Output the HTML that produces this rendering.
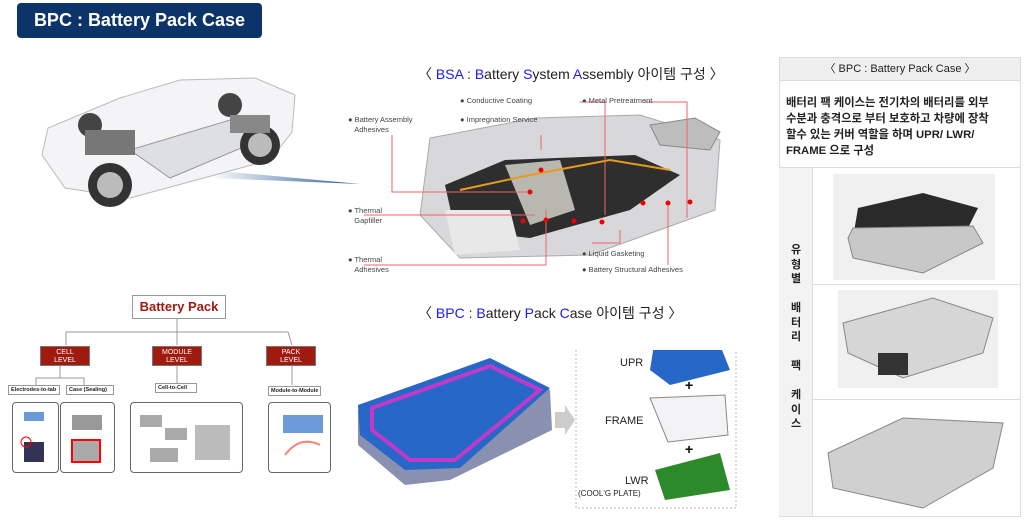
<!DOCTYPE html>
<html><head><meta charset="utf-8">
<style>
*{margin:0;padding:0;box-sizing:border-box}
body{width:1024px;height:520px;background:#fff;position:relative;overflow:hidden;font-family:"Liberation Sans","Noto Sans CJK KR",sans-serif}
.a{position:absolute;white-space:nowrap}
.lbl{font-size:7.5px;color:#444;line-height:10px}
.b{color:#1a1aff}
.lv{position:absolute;background:#a01a10;color:#fff;font-size:7px;text-align:center;line-height:8px;padding-top:2px;border:1px solid #777}
.sl{position:absolute;border:1px solid #999;font-size:5.5px;font-weight:bold;padding:1px 2px;background:#fff;color:#222;white-space:nowrap;overflow:hidden}
.ib{position:absolute;border:1px solid #666;border-radius:4px;background:#fff}
</style></head><body>

<div class="a" style="left:17px;top:3px;width:245px;height:35px;background:#0d3468;border-radius:4px;color:#fff;font-weight:bold;font-size:18px;line-height:35px;text-align:center">BPC : Battery Pack Case</div>

<!-- car -->
<svg class="a" style="left:30px;top:60px" width="350" height="150">
<defs><linearGradient id="g1" x1="0" x2="1"><stop offset="0" stop-color="#fff"/><stop offset="1" stop-color="#2a5a9a"/></linearGradient></defs>
<polygon points="180,110 330,124 180,118" fill="url(#g1)"/>
<path d="M12,95 L18,68 L90,38 L150,20 L225,18 L265,35 L262,72 L240,100 L100,138 L35,128 Z" fill="#f4f4f6" stroke="#bbb"/>
<polygon points="100,90 200,60 235,78 140,118" fill="#dcdfe3" stroke="#999"/>
<circle cx="80" cy="125" r="22" fill="#333"/><circle cx="80" cy="125" r="13" fill="#bbb"/>
<circle cx="230" cy="85" r="20" fill="#333"/><circle cx="230" cy="85" r="12" fill="#bbb"/>
<circle cx="200" cy="45" r="12" fill="#444"/>
<circle cx="60" cy="65" r="12" fill="#444"/>
<rect x="55" y="70" width="50" height="25" fill="#777"/>
<rect x="200" y="55" width="40" height="18" fill="#888"/>
</svg>

<div class="a" style="left:418px;top:64px;font-size:14px;color:#222">〈 <span class="b">BSA</span> : <span class="b">B</span>attery <span class="b">S</span>ystem <span class="b">A</span>ssembly 아이템 구성 〉</div>

<!-- BSA pack -->
<svg class="a" style="left:410px;top:90px" width="320" height="180">
<polygon points="10,125 20,48 125,28 230,25 310,50 305,120 180,165 50,168" fill="#d8d8da" stroke="#aaa"/>
<polygon points="35,95 95,70 225,65 270,85 220,120 120,148 45,140" fill="#2e2e2e"/>
<polygon points="95,75 150,70 165,120 120,135" fill="#b8b8b0"/>
<polygon points="35,120 100,120 110,160 45,165" fill="#e8e8e8"/>
<polygon points="240,35 285,28 310,42 300,60 250,55" fill="#bdbdbd" stroke="#888"/>
<path d="M50,100 L120,85 L200,70 L260,80" stroke="#e89a20" fill="none" stroke-width="2"/>
</svg>
<svg class="a" style="left:330px;top:90px" width="420" height="190" fill="none" stroke="#e66" stroke-width="1">
<path d="M62,45 V102 H200"/><path d="M34,125 H205"/><path d="M34,175 H216 V120"/>
<path d="M314,12 H357 V128"/><path d="M250,12 H275 V125"/><path d="M211,60 V45"/>
<path d="M262,153 H290 V140"/><path d="M338,175 V115"/>
<g fill="#e00" stroke="none"><circle cx="200" cy="102" r="2.5"/><circle cx="244" cy="131" r="2.5"/><circle cx="216" cy="130" r="2.5"/><circle cx="272" cy="132" r="2.5"/><circle cx="211" cy="80" r="2.5"/><circle cx="313" cy="113" r="2.5"/><circle cx="338" cy="113" r="2.5"/><circle cx="360" cy="112" r="2.5"/><circle cx="193" cy="131" r="2.5"/></g>
</svg>
<div class="a lbl" style="left:348px;top:115px">● Battery Assembly<br>&nbsp;&nbsp;&nbsp;Adhesives</div>
<div class="a lbl" style="left:348px;top:206px">● Thermal<br>&nbsp;&nbsp;&nbsp;Gapfiller</div>
<div class="a lbl" style="left:348px;top:255px">● Thermal<br>&nbsp;&nbsp;&nbsp;Adhesives</div>
<div class="a lbl" style="left:460px;top:96px">● Conductive Coating</div>
<div class="a lbl" style="left:460px;top:115px">● Impregnation Service</div>
<div class="a lbl" style="left:582px;top:96px">● Metal Pretreatment</div>
<div class="a lbl" style="left:582px;top:249px">● Liquid Gasketing</div>
<div class="a lbl" style="left:582px;top:265px">● Battery Structural Adhesives</div>

<!-- tree -->
<svg class="a" style="left:0;top:290px" width="340" height="120" fill="none" stroke="#999">
<path d="M177,28 V42 M66,55 V42 H288 L292,55 M177,42 V55 M60,75 V88 M36,95 V88 H84 V95 M177,75 V95 M292,75 V95"/>
</svg>
<div class="a" style="left:132px;top:295px;width:94px;height:24px;border:1px solid #999;color:#a01a10;font-weight:bold;font-size:13px;text-align:center;line-height:22px">Battery Pack</div>
<div class="lv" style="left:40px;top:346px;width:50px;height:20px">CELL<br>LEVEL</div>
<div class="lv" style="left:152px;top:346px;width:50px;height:20px">MODULE<br>LEVEL</div>
<div class="lv" style="left:266px;top:346px;width:50px;height:20px">PACK<br>LEVEL</div>
<div class="sl" style="left:8px;top:385px;width:52px">Electrodes-to-tab</div>
<div class="sl" style="left:66px;top:385px;width:48px">Case (Sealing)</div>
<div class="sl" style="left:155px;top:383px;width:42px">Cell-to-Cell</div>
<div class="sl" style="left:268px;top:386px;width:53px">Module-to-Module</div>
<div class="ib" style="left:12px;top:402px;width:47px;height:71px"></div>
<div class="ib" style="left:60px;top:402px;width:55px;height:71px"></div>
<div class="ib" style="left:130px;top:402px;width:113px;height:71px"></div>
<div class="ib" style="left:268px;top:402px;width:63px;height:71px"></div>
<svg class="a" style="left:0;top:400px" width="340" height="80">
<rect x="24" y="12" width="20" height="9" fill="#6a9ad8"/><rect x="24" y="42" width="20" height="20" fill="#335"/><circle cx="26" cy="42" r="5" fill="none" stroke="red"/>
<rect x="72" y="15" width="30" height="15" fill="#999"/><rect x="72" y="40" width="28" height="22" fill="#aaa" stroke="red" stroke-width="2"/>
<rect x="140" y="15" width="22" height="12" fill="#aaa"/><rect x="165" y="28" width="22" height="12" fill="#aaa"/><rect x="150" y="48" width="28" height="14" fill="#aaa"/><rect x="195" y="25" width="35" height="35" fill="#bbb"/>
<rect x="283" y="15" width="40" height="18" fill="#6a9ad8"/><path d="M285,55 q15,-20 35,-10" stroke="#e87" fill="none" stroke-width="2"/>
</svg>

<div class="a" style="left:418px;top:303px;font-size:14px;color:#222">〈 <span class="b">BPC</span> : <span class="b">B</span>attery <span class="b">P</span>ack <span class="b">C</span>ase 아이템 구성 〉</div>
<svg class="a" style="left:350px;top:350px" width="390" height="165">
<polygon points="8,60 140,12 200,40 202,80 100,130 55,135 8,95" fill="#8a90b0"/>
<polygon points="8,55 140,8 200,38 110,118 55,120 10,85" fill="#2767c8"/>
<polygon points="22,58 140,16 190,40 105,110 60,110 22,80" fill="none" stroke="#c03ac8" stroke-width="4"/>
<polygon points="205,62 215,62 215,55 225,70 215,85 215,78 205,78" fill="#ccc"/>
<rect x="226" y="-22" width="160" height="180" fill="none" stroke="#bbb" stroke-dasharray="2,2"/>
<polygon points="305,-12 370,-5 380,20 320,35 300,20" fill="#2767c8"/>
<polygon points="300,48 375,45 378,85 318,92" fill="#f3f3f5" stroke="#888"/>
<polygon points="305,120 370,103 380,140 315,150" fill="#2d8a2a"/>
<text x="335" y="40" font-size="14" font-family="Liberation Sans" font-weight="bold">+</text>
<text x="335" y="104" font-size="14" font-family="Liberation Sans" font-weight="bold">+</text>
</svg>
<div class="a" style="left:620px;top:357px;font-size:11px;color:#222">UPR</div>
<div class="a" style="left:605px;top:415px;font-size:11px;color:#222">FRAME</div>
<div class="a" style="left:625px;top:475px;font-size:11px;color:#222">LWR</div>
<div class="a" style="left:578px;top:489px;font-size:8px;color:#222">(COOL'G PLATE)</div>

<!-- right table -->
<div class="a" style="left:779px;top:57px;width:242px;height:460px;border:1px solid #ddd"></div>
<div class="a" style="left:779px;top:57px;width:242px;height:24px;background:#efefef;border:1px solid #ddd;font-size:11px;text-align:center;line-height:22px;color:#222">〈 BPC : Battery Pack Case 〉</div>
<div class="a" style="left:786px;top:95px;font-size:11.3px;font-weight:bold;line-height:16px;color:#222">배터리 팩 케이스는 전기차의 배터리를 외부<br>수분과 충격으로 부터 보호하고 차량에 장착<br>할수 있는 커버 역할을 하며 UPR/ LWR/<br>FRAME 으로 구성</div>
<div class="a" style="left:779px;top:167px;width:242px;border-top:1px solid #ddd"></div>
<div class="a" style="left:779px;top:168px;width:34px;height:348px;background:#f3f3f3;border-right:1px solid #ddd"></div>
<div class="a" style="left:813px;top:284px;width:208px;border-top:1px solid #ddd"></div>
<div class="a" style="left:813px;top:399px;width:208px;border-top:1px solid #ddd"></div>
<div class="a" style="left:789px;top:243px;font-size:11px;font-weight:bold;line-height:14.5px;white-space:normal;width:14px;text-align:center;color:#222">유<br>형<br>별<br><br>배<br>터<br>리<br><br>팩<br><br>케<br>이<br>스</div>
<svg class="a" style="left:813px;top:168px" width="208" height="348">
<rect x="20" y="6" width="162" height="106" fill="#f0f0f0"/>
<polygon points="45,40 110,25 165,40 150,70 90,85 40,70" fill="#2a2a2a"/>
<polygon points="35,70 40,60 160,58 170,75 110,105 40,90" fill="#c8c8c8" stroke="#888"/>
<rect x="25" y="122" width="160" height="98" fill="#f0f0f0"/>
<polygon points="30,155 120,130 180,150 170,185 90,210 35,185" fill="#d6d6d6" stroke="#888"/>
<rect x="65" y="185" width="30" height="22" fill="#333"/>
<polygon points="15,285 90,250 190,255 180,300 110,340 20,320" fill="#d0d0d0" stroke="#888"/>
</svg>
</body></html>
